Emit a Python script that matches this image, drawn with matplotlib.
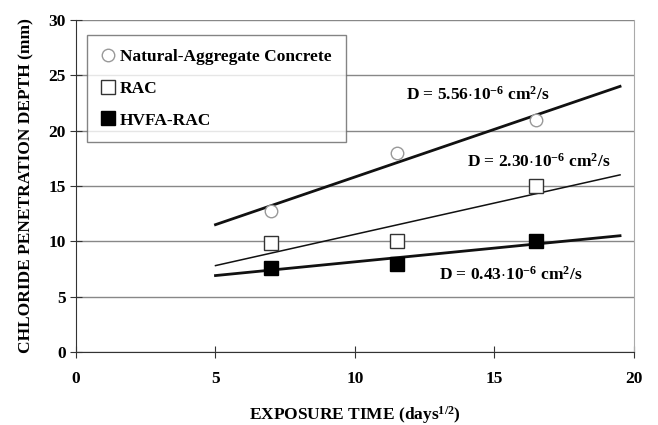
import matplotlib.pyplot as plt

plt.rcParams['font.family'] = ['Liberation Serif', 'DejaVu Serif']
plt.rcParams['font.weight'] = 'bold'
plt.rcParams['axes.labelweight'] = 'bold'
plt.rcParams['mathtext.fontset'] = 'custom'
plt.rcParams['mathtext.rm'] = 'Liberation Serif:bold'
plt.rcParams['mathtext.bf'] = 'Liberation Serif:bold'
plt.rcParams['mathtext.it'] = 'Liberation Serif:bold:italic'

# Data
time = [7, 11.5, 16.5]
nac = [12.7, 18.0, 21.0]
rac = [9.8, 10.0, 15.0]
hvfa = [7.6, 7.9, 10.0]

# Trend lines (end points)
trend_x = [5, 19.5]
nac_trend = [11.5, 24.0]
rac_trend = [7.8, 16.0]
hvfa_trend = [6.9, 10.5]

labels = ['Natural-Aggregate Concrete', 'RAC', 'HVFA-RAC']
d_labels = [r'D = 5.56$\cdot$10$^{-6}$ cm$^{2}$/s',
            r'D = 2.30$\cdot$10$^{-6}$ cm$^{2}$/s',
            r'D = 0.43$\cdot$10$^{-6}$ cm$^{2}$/s']

fig = plt.figure(figsize=(6.58, 4.25), dpi=100)
ax = fig.add_axes([0.1155, 0.172, 0.848, 0.781])

ax.set_xlim(0, 20)
ax.set_ylim(0, 30)
ax.set_yticks([0, 5, 10, 15, 20, 25, 30])
ax.set_xticks([0, 5, 10, 15, 20])
ax.yaxis.grid(True, color='#888888', lw=1)
ax.set_axisbelow(True)

ax.plot(trend_x, nac_trend, color='#111111', lw=2)
ax.plot(trend_x, rac_trend, color='#111111', lw=1.1)
ax.plot(trend_x, hvfa_trend, color='#111111', lw=2)

ax.plot(time, nac, 'o', ms=9, mfc='white', mec='#999999', mew=1, label=labels[0])
ax.plot(time, rac, 's', ms=10, mfc='white', mec='#333333', mew=1, label=labels[1])
ax.plot(time, hvfa, 's', ms=10, mfc='black', mec='black', label=labels[2])

ax.text(14.4, 23.2, d_labels[0], ha='center', va='center', fontsize=12.5)
ax.text(16.6, 17.2, d_labels[1], ha='center', va='center', fontsize=12.5)
ax.text(15.6, 7.0, d_labels[2], ha='center', va='center', fontsize=12.5)

ax.spines['top'].set_visible(False)
ax.spines['right'].set_color('#aaaaaa')
ax.spines['left'].set_color('#333333')
ax.spines['bottom'].set_color('#333333')
ax.tick_params(axis='both', direction='inout', length=8, labelsize=12.5, color='#333333')
ax.tick_params(axis='x', pad=10)

leg = ax.legend(loc='upper left', bbox_to_anchor=(0.02, 0.955), fontsize=12.5,
                frameon=True, fancybox=False, edgecolor='#666666',
                handlelength=0.8, handletextpad=0.3, borderpad=0.8,
                labelspacing=0.9, borderaxespad=0)
leg.get_frame().set_linewidth(1)

ax.set_xlabel(r'EXPOSURE TIME (days$^{1/2}$)', fontsize=12.5, labelpad=12)
ax.set_ylabel('CHLORIDE PENETRATION DEPTH (mm)', fontsize=12.5, labelpad=10)

fig.savefig('out.png', dpi=100)
